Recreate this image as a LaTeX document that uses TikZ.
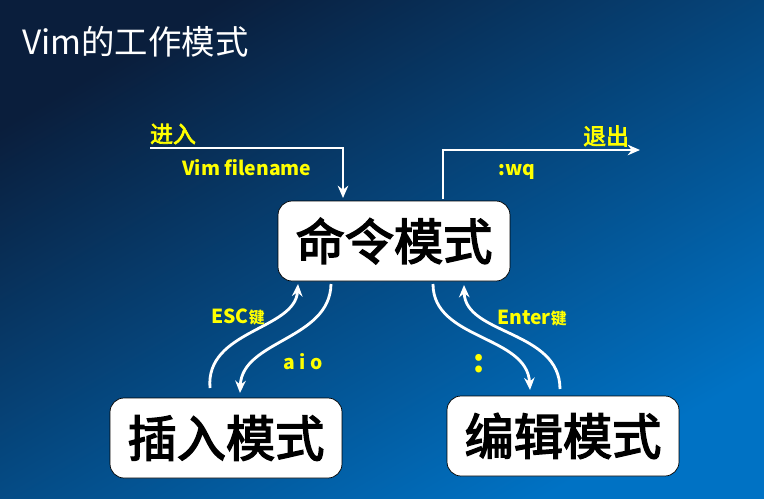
\documentclass[tikz,border=0pt]{standalone}
\usepackage{fontspec}
\setmainfont{Noto Sans CJK SC}
\newfontfamily\cjkbold{Noto Sans CJK SC}[FakeBold=3]
\usetikzlibrary{arrows.meta}
\definecolor{bgdark}{HTML}{0A1E3C}
\definecolor{bglight}{HTML}{0072C4}
\definecolor{lblyellow}{HTML}{FFFF00}
\begin{document}
\begin{tikzpicture}[x=0.02cm,y=-0.02cm]
\tikzstyle{modebox}=[draw=black,fill=white,rounded corners=8pt,minimum width=4.64cm,minimum height=1.6cm,font=\cjkbold\fontsize{28}{30}\selectfont,text=black]
\tikzstyle{lbl}=[text=lblyellow,font=\bfseries\fontsize{11}{12}\selectfont]
\tikzstyle{flow}=[draw=white,line width=1.6pt,-{Stealth[length=7pt,width=6pt]}]

\shade[shading=axis,top color=bgdark,bottom color=bglight,shading angle=30] (0,0) rectangle (764,498);
\useasboundingbox (0,0) rectangle (764,498);

\node[text=white,anchor=west,font=\fontsize{19}{22}\selectfont] (title) at (16,42) {Vim的工作模式};

\node[modebox] (cmd) at (394,241) {命令模式};
\node[modebox] (ins) at (226,438) {插入模式};
\node[modebox] (edt) at (563,436) {编辑模式};

% enter / exit
\coordinate (start) at (150,148);
\coordinate (stop) at (640,150);
\draw[flow] (start) -- (343,148) -- (343,198);
\draw[flow] (443,199) -- (443,150) -- (stop);
\node[lbl,font=\cjkbold\fontsize{13}{14}\selectfont] (enterlbl) at (173,134) {进入};
\node[lbl] (vimlbl) at (247,168) {Vim filename};
\node[lbl,font=\cjkbold\fontsize{13}{14}\selectfont] (exitlbl) at (606,136) {退出};
\node[lbl] (wqlbl) at (517,172) {:wq};

% mode switching
\draw[flow] (210,388) .. controls (205,330) and (295,330) .. (298,284);
\draw[flow] (331,284) .. controls (330,340) and (242,340) .. (240,393);
\draw[flow] (433,284) .. controls (433,340) and (527,335) .. (530,390);
\draw[flow] (560,389) .. controls (560,330) and (465,335) .. (464,285);

\node[lbl] (esclbl) at (238,317) {ESC\fontsize{9}{10}\selectfont 键};
\node[lbl] (aiolbl) at (303,362) {a i o};
\node[lbl] (entlbl) at (532,318) {Enter\fontsize{9}{10}\selectfont 键};
\node[lbl,font=\bfseries\fontsize{18}{18}\selectfont] (collbl) at (479,364) {:};
\end{tikzpicture}
\end{document}
